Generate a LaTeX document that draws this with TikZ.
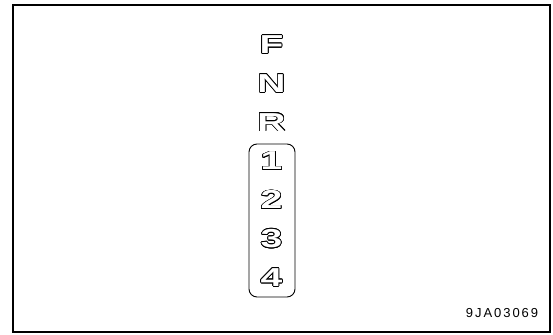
\documentclass[tikz,border=0pt]{standalone}
\usepackage{fontspec}
\setmainfont{Liberation Sans}
\newfontfamily\gearfont[FakeStretch=1.5]{Liberation Sans Bold}
\usepackage{contour}
\contourlength{0.75pt}
\usepackage{tikz}

\begin{document}
\begin{tikzpicture}[x=1pt, y=-1pt,
  gear/.style={text=white, inner sep=0pt, font={\gearfont\fontsize{26pt}{30pt}\selectfont}},
  code/.style={inner sep=0pt, font={\fontsize{13pt}{15pt}\selectfont\addfontfeature{LetterSpace=15}}}]
  \useasboundingbox (0,0) rectangle (553,334);
  \coordinate (FrameA) at (13,5);
  \coordinate (FrameB) at (550,332);
  \coordinate (BoxA) at (249,144);
  \coordinate (BoxB) at (295,297);

  \draw[line width=1.3pt] (FrameA) rectangle (FrameB);

  % shift positions, top to bottom
  \foreach \g [count=\i from 0] in {F,N,R,1,2,3,4}
    \node[gear] (g\g) at (271.5,45+38.8*\i) {\contour{black}{\g}};

  \draw[line width=0.9pt, rounded corners=8pt] (BoxA) rectangle (BoxB);

  \node[code] (fig) at (502,313) {9JA03069};
\end{tikzpicture}
\end{document}
